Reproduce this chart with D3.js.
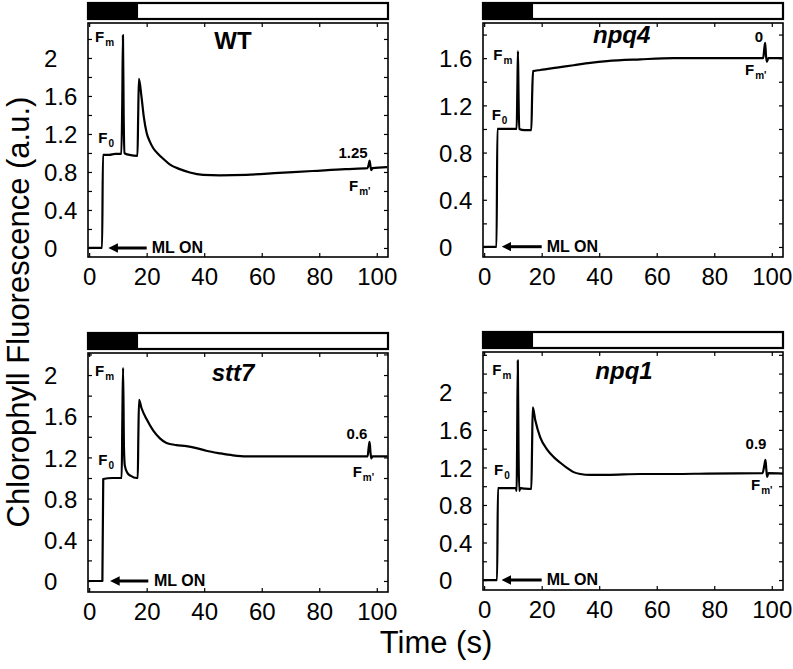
<!DOCTYPE html>
<html><head><meta charset="utf-8">
<script src="https://cdn.jsdelivr.net/npm/d3@7"></script>
<style>
body{margin:0;background:#fff;}
svg text{font-family:"Liberation Sans",Arial,sans-serif;fill:#000;}
</style></head>
<body><svg id="chart" width="793" height="669"></svg>
<script>
// ---------------- DATA ----------------
const panelNames = ["WT", "npq4", "stt7", "npq1"];
const fmPrimeLabels = ["1.25", "0", "0.6", "0.9"];
const darkEnd = 17;            // s, dark period shown by the black bar
const xTickValues = [0, 20, 40, 60, 80, 100];
const yTickValues = [0, 0.2, 0.4, 0.6, 0.8, 1.0, 1.2, 1.4, 1.6, 1.8, 2.0, 2.2, 2.4];
const yTickLabels = [0, 0.4, 0.8, 1.2, 1.6, 2];

const wtTime  = [-0.3, 4.5, 4.8, 7, 9, 11.2, 11.5, 11.75, 12.0, 12.3, 12.8, 14, 16.8, 17.05, 17.3, 18.2, 19.0, 20.0, 21.1, 22.3, 24.0, 25.7, 28.0, 31.5, 35.0, 39.6, 45.4, 54.6, 66.0, 77.7, 89.0, 96.8, 97.2, 97.5, 97.8, 98.1, 98.5, 103.6];
const wtValue = [0, 0, 0.98, 0.98, 0.99, 0.99, 1.5, 2.24, 1.4, 1.0, 0.99, 0.98, 0.97, 1.4, 1.78, 1.59, 1.38, 1.21, 1.12, 1.05, 0.99, 0.94, 0.88, 0.83, 0.795, 0.77, 0.765, 0.77, 0.79, 0.81, 0.83, 0.84, 0.88, 0.92, 0.86, 0.82, 0.84, 0.85];

const npq4Time  = [-0.3, 4.3, 4.6, 8, 11.3, 11.55, 11.75, 11.95, 12.2, 14, 16.4, 16.7, 17.0, 19.5, 25.3, 31.1, 36.9, 42.7, 54.3, 65.9, 77.5, 89.1, 97.0, 97.4, 97.7, 98.0, 98.3, 98.8, 103.8];
const npq4Value = [0, 0, 1.0, 1.0, 1.0, 1.35, 1.66, 1.3, 1.0, 0.99, 0.99, 1.3, 1.49, 1.50, 1.52, 1.54, 1.56, 1.575, 1.59, 1.6, 1.6, 1.6, 1.6, 1.68, 1.73, 1.62, 1.57, 1.6, 1.6];

const stt7Time  = [-0.3, 4.6, 4.9, 8, 11.3, 11.55, 11.8, 12.1, 12.4, 13.3, 14.5, 16.5, 16.9, 17.1, 17.35, 18.2, 20.0, 22.3, 24.6, 26.9, 30.3, 33.8, 37.3, 40.7, 45.4, 50.0, 54.6, 66.0, 77.7, 96.8, 97.2, 97.5, 97.8, 98.1, 98.5, 103.7];
const stt7Value = [0, 0, 0.99, 1.0, 1.0, 1.6, 2.07, 1.3, 1.12, 1.05, 1.02, 1.0, 1.0, 1.4, 1.76, 1.68, 1.57, 1.46, 1.385, 1.34, 1.32, 1.31, 1.29, 1.265, 1.24, 1.22, 1.21, 1.21, 1.21, 1.21, 1.3, 1.35, 1.25, 1.19, 1.21, 1.21];

const npq1Time  = [-0.3, 4.5, 4.8, 8, 11.0, 11.3, 11.45, 11.7, 11.95, 12.2, 12.6, 14, 16.4, 16.65, 16.9, 17.8, 19.5, 21.9, 24.2, 26.5, 28.8, 31.1, 33.4, 36.9, 42.7, 54.3, 65.9, 77.5, 96.8, 97.4, 97.8, 98.1, 98.4, 98.8, 103.9];
const npq1Value = [0, 0, 0.98, 0.98, 0.98, 0.95, 1.4, 2.34, 1.4, 0.95, 0.98, 0.975, 0.97, 1.4, 1.84, 1.70, 1.52, 1.39, 1.31, 1.25, 1.195, 1.15, 1.13, 1.12, 1.12, 1.13, 1.13, 1.135, 1.14, 1.22, 1.28, 1.18, 1.10, 1.14, 1.135];

const seriesTime  = [wtTime, npq4Time, stt7Time, npq1Time];
const seriesValue = [wtValue, npq4Value, stt7Value, npq1Value];

// ---------------- LAYOUT ----------------
const xDomain = [-0.4, 103.9];
const panels = [
  {left: 88,  right: 388, top: 23,  bottom: 257, yDom: [-0.095, 2.368], italic: false,
   title: [145, 26], fm: [7, 18.7], f0: [10.3, 120], fpv: [265, 135], fp: [261, 167.7], arrowY: 225, arrow: [22, 58.7], ml: [63.7, 230]},
  {left: 483, right: 783, top: 23,  bottom: 257, yDom: [-0.085, 1.898], italic: true,
   title: [138.7, 20], fm: [10.3, 37], f0: [8.7, 97], fpv: [276, 18.7], fp: [262, 52], arrowY: 223.7, arrow: [20.3, 58.7], ml: [63.7, 229]},
  {left: 88,  right: 388, top: 353, bottom: 592, yDom: [-0.107, 2.214], italic: true,
   title: [145, 28], fm: [7, 23], f0: [10.3, 112], fpv: [269, 86.3], fp: [264.7, 123.7], arrowY: 228, arrow: [23.7, 60.3], ml: [66, 233]},
  {left: 483, right: 783, top: 352, bottom: 590, yDom: [-0.106, 2.43], italic: true,
   title: [141, 27], fm: [9.3, 23], f0: [11, 123], fpv: [273, 97], fp: [268, 138], arrowY: 228, arrow: [20.3, 58.7], ml: [63.7, 233]}
];

const svg = d3.select("#chart");
svg.append("defs").append("marker")
  .attr("id", "ah").attr("viewBox", "0 0 10 10").attr("refX", 1).attr("refY", 5)
  .attr("markerWidth", 3.2).attr("markerHeight", 3.2).attr("orient", "auto-start-reverse")
  .append("path").attr("d", "M0,0 L10,5 L0,10 z").attr("fill", "#000");

const fmt = d3.format("~g");

panels.forEach((p, i) => {
  const x = d3.scaleLinear().domain(xDomain).range([p.left, p.right]);
  const y = d3.scaleLinear().domain(p.yDom).range([p.bottom, p.top]);
  const g = svg.append("g");
  const yt = yTickValues.filter(v => v <= p.yDom[1]);
  const labelSet = new Set(yTickLabels.filter(v => v <= p.yDom[1] - 0.2).map(v => v.toFixed(1)));

  // light bar
  const by0 = p.top - 20, bh = 16;
  g.append("rect").attr("x", x(xDomain[0])).attr("y", by0).attr("width", x(darkEnd) - x(xDomain[0])).attr("height", bh).attr("fill", "#000");
  g.append("rect").attr("x", p.left).attr("y", by0).attr("width", p.right - p.left).attr("height", bh)
    .attr("fill", "none").attr("stroke", "#000").attr("stroke-width", 2.2);

  // axes (inward ticks)
  const xb = g.append("g").attr("transform", `translate(0,${p.bottom})`)
    .call(d3.axisBottom(x).tickValues(xTickValues).tickSize(-4).tickPadding(11).tickFormat(fmt));
  const xt = g.append("g").attr("transform", `translate(0,${p.top})`)
    .call(d3.axisTop(x).tickValues(xTickValues).tickSize(-4).tickFormat(""));
  const yl = g.append("g").attr("transform", `translate(${p.left},0)`)
    .call(d3.axisLeft(y).tickValues(yt).tickSize(-4).tickPadding(8)
      .tickFormat(v => labelSet.has(v.toFixed(1)) ? fmt(+v.toFixed(1)) : ""));
  const yr = g.append("g").attr("transform", `translate(${p.right},0)`)
    .call(d3.axisRight(y).tickValues(yt).tickSize(-4).tickFormat(""));
  [xb, xt, yl, yr].forEach(a => {
    a.select(".domain").remove();
    a.selectAll(".tick line").attr("stroke", "#000").attr("stroke-width", 1.2);
  });
  xb.selectAll("text").attr("font-size", 24).attr("font-family", "Liberation Sans, Arial, sans-serif").attr("dy", "0.71em");
  yl.selectAll("text").attr("font-size", 24).attr("font-family", "Liberation Sans, Arial, sans-serif")
    .attr("text-anchor", "start").attr("x", -44).attr("dy", "0.36em");

  // frame
  g.append("rect").attr("x", p.left).attr("y", p.top).attr("width", p.right - p.left).attr("height", p.bottom - p.top)
    .attr("fill", "none").attr("stroke", "#000").attr("stroke-width", 1.6);

  // trace
  const pts = seriesTime[i].map((t, k) => [t, seriesValue[i][k]]);
  const line = d3.line().x(d => x(d[0])).y(d => y(d[1])).curve(d3.curveMonotoneX);
  g.append("path").attr("d", line(pts)).attr("fill", "none").attr("stroke", "#000")
    .attr("stroke-width", 2.2).attr("stroke-linejoin", "round");

  // title
  g.append("text").attr("x", p.left + p.title[0]).attr("y", p.top + p.title[1])
    .attr("text-anchor", "middle").attr("font-size", 24).attr("font-weight", "bold")
    .attr("font-style", p.italic ? "italic" : "normal").text(panelNames[i]);

  // F labels
  function fLabel(pos, sub) {
    const t = g.append("text").attr("x", p.left + pos[0]).attr("y", p.top + pos[1])
      .attr("font-weight", "bold").attr("font-size", 15);
    t.append("tspan").text("F");
    t.append("tspan").attr("font-size", 10).attr("dx", 1).attr("dy", 4).text(sub);
  }
  fLabel(p.fm, "m");
  fLabel(p.f0, "0");
  fLabel(p.fp, "m'");
  g.append("text").attr("x", p.left + p.fpv[0]).attr("y", p.top + p.fpv[1])
    .attr("text-anchor", "middle").attr("font-weight", "bold").attr("font-size", 15).text(fmPrimeLabels[i]);

  // ML ON arrow
  g.append("line").attr("x1", p.left + p.arrow[1]).attr("x2", p.left + p.arrow[0] + 7)
    .attr("y1", p.top + p.arrowY).attr("y2", p.top + p.arrowY)
    .attr("stroke", "#000").attr("stroke-width", 3).attr("marker-end", "url(#ah)");
  g.append("text").attr("x", p.left + p.ml[0]).attr("y", p.top + p.ml[1])
    .attr("font-weight", "bold").attr("font-size", 16).text("ML ON");
});

svg.append("text").attr("transform", "translate(29,312) rotate(-90)").attr("text-anchor", "middle")
  .attr("font-size", 31).text("Chlorophyll Fluorescence (a.u.)");
svg.append("text").attr("x", 436).attr("y", 653).attr("text-anchor", "middle")
  .attr("font-size", 31).text("Time (s)");
</script>
</body></html>
